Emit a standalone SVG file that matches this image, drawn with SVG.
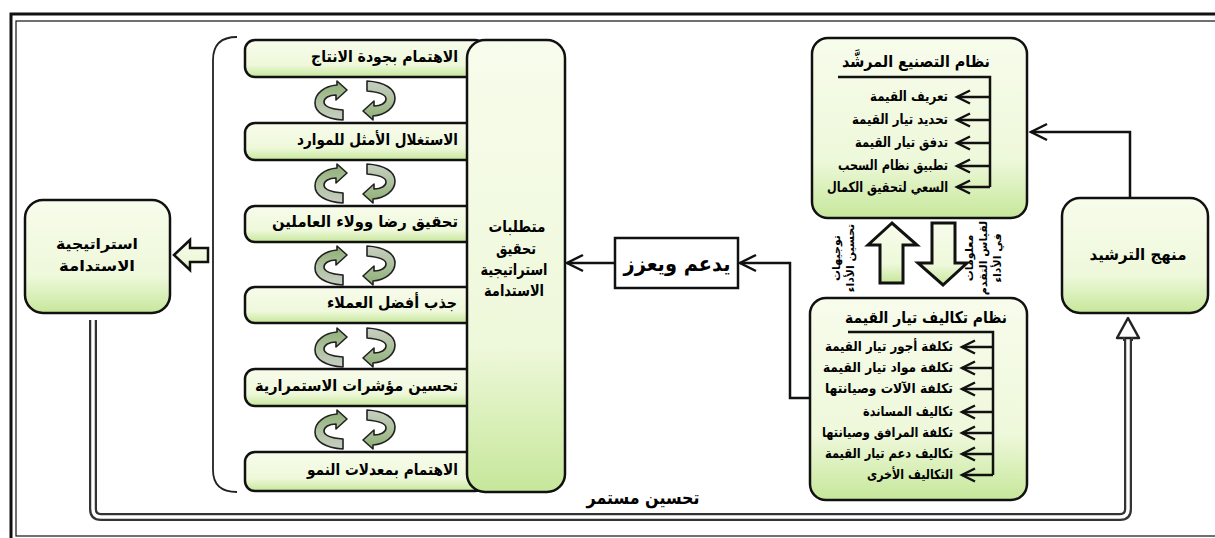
<svg xmlns="http://www.w3.org/2000/svg" xmlns:xlink="http://www.w3.org/1999/xlink" width="1215" height="538" viewBox="0 0 1215 538">
<style>
.t{font-family:"DejaVu Sans","Noto Sans",sans-serif;font-weight:bold;fill:#000}
.box{fill:url(#gr);stroke:#111;stroke-width:2.5}
.ln{fill:none;stroke:#111;stroke-width:2.5}
.arr{fill:none;stroke:#111;stroke-width:2.5;marker-end:url(#oa)}
.big{fill:none;stroke:#111;stroke-width:2.5;marker-end:url(#ob)}
</style>
<defs>
<linearGradient id="gr" x1="0" y1="0" x2="0" y2="1">
<stop offset="0" stop-color="#f8fcec"/>
<stop offset="0.68" stop-color="#eef8da"/>
<stop offset="1" stop-color="#c6e79a"/>
</linearGradient>
<linearGradient id="gc" x1="0" y1="0" x2="0" y2="1">
<stop offset="0" stop-color="#8dae74"/>
<stop offset="0.45" stop-color="#a9bf98"/>
<stop offset="1" stop-color="#c9cfc4"/>
</linearGradient>
<marker id="oa" markerUnits="userSpaceOnUse" markerWidth="20" markerHeight="20" refX="15" refY="8" orient="auto">
<path d="M2,1.5 L15,8 L2,14.5" fill="none" stroke="#111" stroke-width="2.5"/>
</marker>
<marker id="ob" markerUnits="userSpaceOnUse" markerWidth="22" markerHeight="22" refX="18" refY="10" orient="auto">
<path d="M2,2 L18,10 L2,18" fill="none" stroke="#111" stroke-width="2.5"/>
</marker>
<g id="ca">
<path d="M22,4 L22,0 L32,9 L21,19 L21,14 C14,14 9,17 9,21 C9,25 16,28 28,29 L28,39 C10,38 0,31 0,22 C0,12 10,5 22,4 Z" fill="url(#gc)" stroke="#222" stroke-width="1.6" stroke-linejoin="round"/>
</g>
</defs>

<rect x="0" y="0" width="1215" height="538" fill="#fff"/>
<g id="frame">
<rect x="11" y="14" width="1220" height="530" fill="none" stroke="#111" stroke-width="3"/>
<rect x="16" y="21" width="1210" height="515" fill="none" stroke="#111" stroke-width="1.2"/>
</g>

<g id="connectors">
<path d="M93,320 V509 Q93,517 101,517 H1120 Q1128,517 1128,509 V337" fill="none" stroke="#333" stroke-width="8"/>
<path d="M93,320 V509 Q93,517 101,517 H1120 Q1128,517 1128,509 V337" fill="none" stroke="#fff" stroke-width="3.5"/>
<polygon points="1128,318 1117,338 1139,338" fill="#fff" stroke="#222" stroke-width="2.5" stroke-linejoin="round"/>
<path d="M1124,337 V341 M1132,337 V341" stroke="#333" stroke-width="2"/>
<polygon points="174,255 190,240 190,248 208,248 208,262 190,262 190,270" fill="url(#gr)" stroke="#111" stroke-width="2.5"/>
<path class="big" d="M615,263 H567"/>
<path class="big" d="M810,398 H790 V263 H740"/>
<path class="big" d="M1130,197 V132 H1031"/>
<path d="M237,37 Q213,37 213,60 V470 Q213,492 237,492" fill="none" stroke="#222" stroke-width="1.8"/>
<polygon points="892,223 868,245 880,245 880,283 903,283 903,245 917,245" fill="url(#gr)" stroke="#111" stroke-width="3"/>
<polygon points="932,223 955,223 955,263 967,263 943,285 918,263 932,263" fill="url(#gr)" stroke="#111" stroke-width="3"/>
<text class="t" font-size="11" transform="translate(840,258) rotate(-90)" text-anchor="middle">توجيهات</text>
<text class="t" font-size="11" transform="translate(854,258) rotate(-90)" text-anchor="middle">تحسين الأداء</text>
<text class="t" font-size="11" transform="translate(973,258) rotate(-90)" text-anchor="middle">معلومات</text>
<text class="t" font-size="11" transform="translate(987,258) rotate(-90)" text-anchor="middle">لقياس التقدم</text>
<text class="t" font-size="11" transform="translate(1001,258) rotate(-90)" text-anchor="middle">في الأداء</text>
<text class="t" font-size="18" x="643" y="504" text-anchor="middle" textLength="113" lengthAdjust="spacingAndGlyphs">تحسين مستمر</text>
</g>

<g id="n-strategy">
<rect class="box" x="25" y="200" width="145" height="113" rx="18"/>
<text class="t" font-size="15" x="97" y="249" text-anchor="middle" textLength="82" lengthAdjust="spacingAndGlyphs">استراتيجية</text>
<text class="t" font-size="15" x="97" y="271" text-anchor="middle" textLength="76" lengthAdjust="spacingAndGlyphs">الاستدامة</text>
</g>

<g id="n-req-items">
<rect class="box" x="245" y="40" width="240" height="37" rx="10"/>
<text class="t" font-size="16" x="458" y="62" text-anchor="end" textLength="147" lengthAdjust="spacingAndGlyphs">الاهتمام بجودة الانتاج</text>
<rect class="box" x="245" y="123" width="240" height="37" rx="10"/>
<text class="t" font-size="16" x="458" y="145" text-anchor="end" textLength="161" lengthAdjust="spacingAndGlyphs">الاستغلال الأمثل للموارد</text>
<rect class="box" x="245" y="206" width="240" height="36" rx="10"/>
<text class="t" font-size="16" x="458" y="227" text-anchor="end" textLength="186" lengthAdjust="spacingAndGlyphs">تحقيق رضا وولاء العاملين</text>
<rect class="box" x="245" y="287" width="240" height="36" rx="10"/>
<text class="t" font-size="16" x="457" y="308" text-anchor="end" textLength="130" lengthAdjust="spacingAndGlyphs">جذب أفضل العملاء</text>
<rect class="box" x="245" y="369" width="240" height="37" rx="10"/>
<text class="t" font-size="16" x="458" y="391" text-anchor="end" textLength="203" lengthAdjust="spacingAndGlyphs">تحسين مؤشرات الاستمرارية</text>
<rect class="box" x="245" y="452" width="240" height="39" rx="10"/>
<text class="t" font-size="16" x="458" y="475" text-anchor="end" textLength="151" lengthAdjust="spacingAndGlyphs">الاهتمام بمعدلات النمو</text>
</g>

<g id="cycle-arrows">
<use xlink:href="#ca" x="315" y="81"/>
<use xlink:href="#ca" transform="translate(363,81) rotate(180 16 19.5)"/>
<use xlink:href="#ca" x="315" y="164"/>
<use xlink:href="#ca" transform="translate(363,164) rotate(180 16 19.5)"/>
<use xlink:href="#ca" x="315" y="246"/>
<use xlink:href="#ca" transform="translate(363,246) rotate(180 16 19.5)"/>
<use xlink:href="#ca" x="315" y="328"/>
<use xlink:href="#ca" transform="translate(363,328) rotate(180 16 19.5)"/>
<use xlink:href="#ca" x="315" y="410"/>
<use xlink:href="#ca" transform="translate(363,410) rotate(180 16 19.5)"/>
</g>

<g id="n-requirements">
<rect class="box" x="467" y="40" width="98" height="452" rx="18"/>
<text class="t" font-size="16" x="517" y="232" text-anchor="middle" textLength="57" lengthAdjust="spacingAndGlyphs">متطلبات</text>
<text class="t" font-size="16" x="516" y="254" text-anchor="middle" textLength="40" lengthAdjust="spacingAndGlyphs">تحقيق</text>
<text class="t" font-size="16" x="514" y="275" text-anchor="middle" textLength="67" lengthAdjust="spacingAndGlyphs">استراتيجية</text>
<text class="t" font-size="16" x="514" y="296" text-anchor="middle" textLength="60" lengthAdjust="spacingAndGlyphs">الاستدامة</text>
</g>

<g id="n-support">
<rect x="615" y="238" width="123" height="50" fill="#fff" stroke="#111" stroke-width="2.5"/>
<text class="t" font-size="21" x="677" y="271" text-anchor="middle" textLength="107" lengthAdjust="spacingAndGlyphs">يدعم ويعزز</text>
</g>

<g id="n-lean">
<rect class="box" x="812" y="38" width="215" height="180" rx="16"/>
<text class="t" font-size="16" x="990" y="67" text-anchor="end" textLength="148" lengthAdjust="spacingAndGlyphs">نظام التصنيع المرشَّد</text>
<path class="ln" d="M838,77 H990 V187"/>
<path class="arr" d="M990,97 H957"/>
<path class="arr" d="M990,120 H957"/>
<path class="arr" d="M990,143 H957"/>
<path class="arr" d="M990,166 H957"/>
<path class="arr" d="M990,187 H957"/>
<g font-size="14">
<text class="t" x="948" y="101" text-anchor="end" textLength="78" lengthAdjust="spacingAndGlyphs">تعريف القيمة</text>
<text class="t" x="948" y="124" text-anchor="end" textLength="96" lengthAdjust="spacingAndGlyphs">تحديد تيار القيمة</text>
<text class="t" x="948" y="147" text-anchor="end" textLength="93" lengthAdjust="spacingAndGlyphs">تدفق تيار القيمة</text>
<text class="t" x="948" y="170" text-anchor="end" textLength="110" lengthAdjust="spacingAndGlyphs">تطبيق نظام السحب</text>
<text class="t" x="948" y="192" text-anchor="end" textLength="121" lengthAdjust="spacingAndGlyphs">السعي لتحقيق الكمال</text>
</g>
</g>

<g id="n-rationalization">
<rect class="box" x="1062" y="198" width="146" height="115" rx="18"/>
<text class="t" font-size="16" x="1138" y="260" text-anchor="middle" textLength="97" lengthAdjust="spacingAndGlyphs">منهج الترشيد</text>
</g>

<g id="n-costs">
<rect class="box" x="810" y="298" width="217" height="202" rx="16"/>
<text class="t" font-size="16" x="1007" y="323" text-anchor="end" textLength="162" lengthAdjust="spacingAndGlyphs">نظام تكاليف تيار القيمة</text>
<path class="ln" d="M848,332 H993 V475"/>
<path class="arr" d="M993,347 H962"/>
<path class="arr" d="M993,368 H962"/>
<path class="arr" d="M993,389 H962"/>
<path class="arr" d="M993,412 H962"/>
<path class="arr" d="M993,433 H962"/>
<path class="arr" d="M993,454 H962"/>
<path class="arr" d="M993,475 H962"/>
<g font-size="13.5">
<text class="t" x="953" y="351" text-anchor="end" textLength="128" lengthAdjust="spacingAndGlyphs">تكلفة أجور تيار القيمة</text>
<text class="t" x="953" y="372" text-anchor="end" textLength="130" lengthAdjust="spacingAndGlyphs">تكلفة   مواد تيار القيمة</text>
<text class="t" x="953" y="393" text-anchor="end" textLength="128" lengthAdjust="spacingAndGlyphs">تكلفة الآلات وصيانتها</text>
<text class="t" x="953" y="416" text-anchor="end" textLength="90" lengthAdjust="spacingAndGlyphs">تكاليف المساندة</text>
<text class="t" x="953" y="437" text-anchor="end" textLength="131" lengthAdjust="spacingAndGlyphs">تكلفة المرافق وصيانتها</text>
<text class="t" x="953" y="458" text-anchor="end" textLength="128" lengthAdjust="spacingAndGlyphs">تكاليف دعم تيار القيمة</text>
<text class="t" x="953" y="479" text-anchor="end" textLength="86" lengthAdjust="spacingAndGlyphs">التكاليف الأخرى</text>
</g>
</g>
</svg>
